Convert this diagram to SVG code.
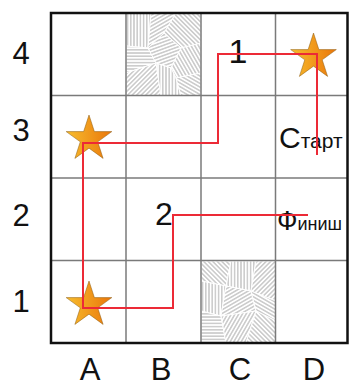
<svg xmlns="http://www.w3.org/2000/svg" width="349" height="388" viewBox="0 0 349 388">
  <defs>
    <style>
      .lbl { font-family: "Liberation Sans", "DejaVu Sans", sans-serif; font-size: 31px; fill: #111; text-anchor: middle; }
      .txt { font-family: "Liberation Sans", "DejaVu Sans", sans-serif; fill: #111; }
      .inner { stroke: #7a7a7a; stroke-width: 1.5; fill: none; }
      .route { stroke: #ec2a36; stroke-width: 2; fill: none; stroke-linejoin: miter; }
      .star { fill: url(#starGrad); stroke: #8a5a10; stroke-width: 0.5; }
    </style>
    <linearGradient id="starGrad" x1="0" y1="0" x2="1" y2="0">
      <stop offset="0" stop-color="#f7bd2e"/>
      <stop offset="1" stop-color="#ea760a"/>
    </linearGradient>
    <path id="starShape" d="M0,-24 L5.39,-7.42 L22.83,-7.42 L8.72,2.83 L14.11,19.42 L0,9.17 L-14.11,19.42 L-8.72,2.83 L-22.83,-7.42 L-5.39,-7.42 Z"/>
    <pattern id="h0" width="3.2" height="3.2" patternUnits="userSpaceOnUse" patternTransform="rotate(0)"><line x1="0" y1="1.6" x2="3.2" y2="1.6" stroke="#9a9a9a" stroke-width="0.8"/></pattern>
    <pattern id="h30" width="3.2" height="3.2" patternUnits="userSpaceOnUse" patternTransform="rotate(30)"><line x1="0" y1="1.6" x2="3.2" y2="1.6" stroke="#9a9a9a" stroke-width="0.8"/></pattern>
    <pattern id="h45" width="3.2" height="3.2" patternUnits="userSpaceOnUse" patternTransform="rotate(45)"><line x1="0" y1="1.6" x2="3.2" y2="1.6" stroke="#9a9a9a" stroke-width="0.8"/></pattern>
    <pattern id="h60" width="3.2" height="3.2" patternUnits="userSpaceOnUse" patternTransform="rotate(60)"><line x1="0" y1="1.6" x2="3.2" y2="1.6" stroke="#9a9a9a" stroke-width="0.8"/></pattern>
    <pattern id="h90" width="3.2" height="3.2" patternUnits="userSpaceOnUse" patternTransform="rotate(90)"><line x1="0" y1="1.6" x2="3.2" y2="1.6" stroke="#9a9a9a" stroke-width="0.8"/></pattern>
    <pattern id="h120" width="3.2" height="3.2" patternUnits="userSpaceOnUse" patternTransform="rotate(120)"><line x1="0" y1="1.6" x2="3.2" y2="1.6" stroke="#9a9a9a" stroke-width="0.8"/></pattern>
    <pattern id="h135" width="3.2" height="3.2" patternUnits="userSpaceOnUse" patternTransform="rotate(135)"><line x1="0" y1="1.6" x2="3.2" y2="1.6" stroke="#9a9a9a" stroke-width="0.8"/></pattern>
    <pattern id="h150" width="3.2" height="3.2" patternUnits="userSpaceOnUse" patternTransform="rotate(150)"><line x1="0" y1="1.6" x2="3.2" y2="1.6" stroke="#9a9a9a" stroke-width="0.8"/></pattern>
    <pattern id="h160" width="3.2" height="3.2" patternUnits="userSpaceOnUse" patternTransform="rotate(160)"><line x1="0" y1="1.6" x2="3.2" y2="1.6" stroke="#9a9a9a" stroke-width="0.8"/></pattern>
  </defs>

  <rect x="0" y="0" width="349" height="388" fill="#ffffff"/>

  <g id="hatch-B4" transform="translate(126,13)" stroke="#ffffff" stroke-width="1">
    <polygon points="0,0 25,0 22,35 0,33" fill="url(#h90)"/>
    <polygon points="25,0 50,0 38,20 22,35" fill="url(#h150)"/>
    <polygon points="50,0 75,0 75,30 55,35 38,20" fill="url(#h45)"/>
    <polygon points="0,33 22,35 30,50 0,60" fill="url(#h0)"/>
    <polygon points="22,35 38,20 55,35 45,55 30,50" fill="url(#h160)"/>
    <polygon points="55,35 75,30 75,60 50,65 45,55" fill="url(#h60)"/>
    <polygon points="0,60 30,50 35,83 0,83" fill="url(#h135)"/>
    <polygon points="30,50 45,55 50,65 55,83 35,83" fill="url(#h90)"/>
    <polygon points="50,65 75,60 75,83 55,83" fill="url(#h30)"/>
  </g>

  <g id="hatch-C1" transform="translate(201,261)" stroke="#ffffff" stroke-width="1">
    <polygon points="0,0 30,0 25,25 0,20" fill="url(#h45)"/>
    <polygon points="30,0 55,0 50,30 25,25" fill="url(#h90)"/>
    <polygon points="55,0 75,0 75,40 50,30" fill="url(#h135)"/>
    <polygon points="0,20 25,25 20,55 0,50" fill="url(#h90)"/>
    <polygon points="25,25 50,30 55,50 20,55" fill="url(#h150)"/>
    <polygon points="50,30 75,40 75,60 55,50" fill="url(#h30)"/>
    <polygon points="0,50 20,55 25,82 0,82" fill="url(#h0)"/>
    <polygon points="20,55 55,50 45,82 25,82" fill="url(#h120)"/>
    <polygon points="55,50 75,60 75,82 45,82" fill="url(#h45)"/>
  </g>

  <g id="grid">
    <line class="inner" x1="126" y1="13" x2="126" y2="343"/>
    <line class="inner" x1="201" y1="13" x2="201" y2="343"/>
    <line class="inner" x1="275.5" y1="13" x2="275.5" y2="343"/>
    <line class="inner" x1="51" y1="95.5" x2="348" y2="95.5"/>
    <line class="inner" x1="51" y1="178" x2="348" y2="178"/>
    <line class="inner" x1="51" y1="260.5" x2="348" y2="260.5"/>
    <rect x="51" y="13" width="296.5" height="330" fill="none" stroke="#111" stroke-width="2.5"/>
  </g>

  <g id="row-labels">
    <text class="lbl" x="21" y="64">4</text>
    <text class="lbl" x="21" y="141">3</text>
    <text class="lbl" x="21" y="226">2</text>
    <text class="lbl" x="21" y="312">1</text>
  </g>
  <g id="col-labels">
    <text class="lbl" x="90" y="380">A</text>
    <text class="lbl" x="161" y="380">B</text>
    <text class="lbl" x="240" y="380">C</text>
    <text class="lbl" x="314" y="380">D</text>
  </g>

  <g id="star-A3"><use href="#starShape" class="star" transform="translate(89,139)"/></g>
  <g id="star-D4"><use href="#starShape" class="star" transform="translate(313.5,57)"/></g>
  <g id="star-A1"><use href="#starShape" class="star" transform="translate(89,305)"/></g>

  <g id="label-1"><text class="txt" x="238" y="63" font-size="34" text-anchor="middle">1</text></g>
  <g id="label-2"><text class="txt" x="164" y="225" font-size="32" text-anchor="middle">2</text></g>
  <g id="label-start"><text class="txt" x="279" y="148"><tspan font-size="30">С</tspan><tspan font-size="21">тарт</tspan></text></g>
  <g id="label-finish"><text class="txt" x="277" y="230"><tspan font-size="27">Ф</tspan><tspan font-size="18">иниш</tspan></text></g>

  <g id="connectors">
    <polyline class="route" points="317,155 317,54 218,54 218,143 83,143 83,308 173,308 173,215 308,215"/>
  </g>
</svg>
